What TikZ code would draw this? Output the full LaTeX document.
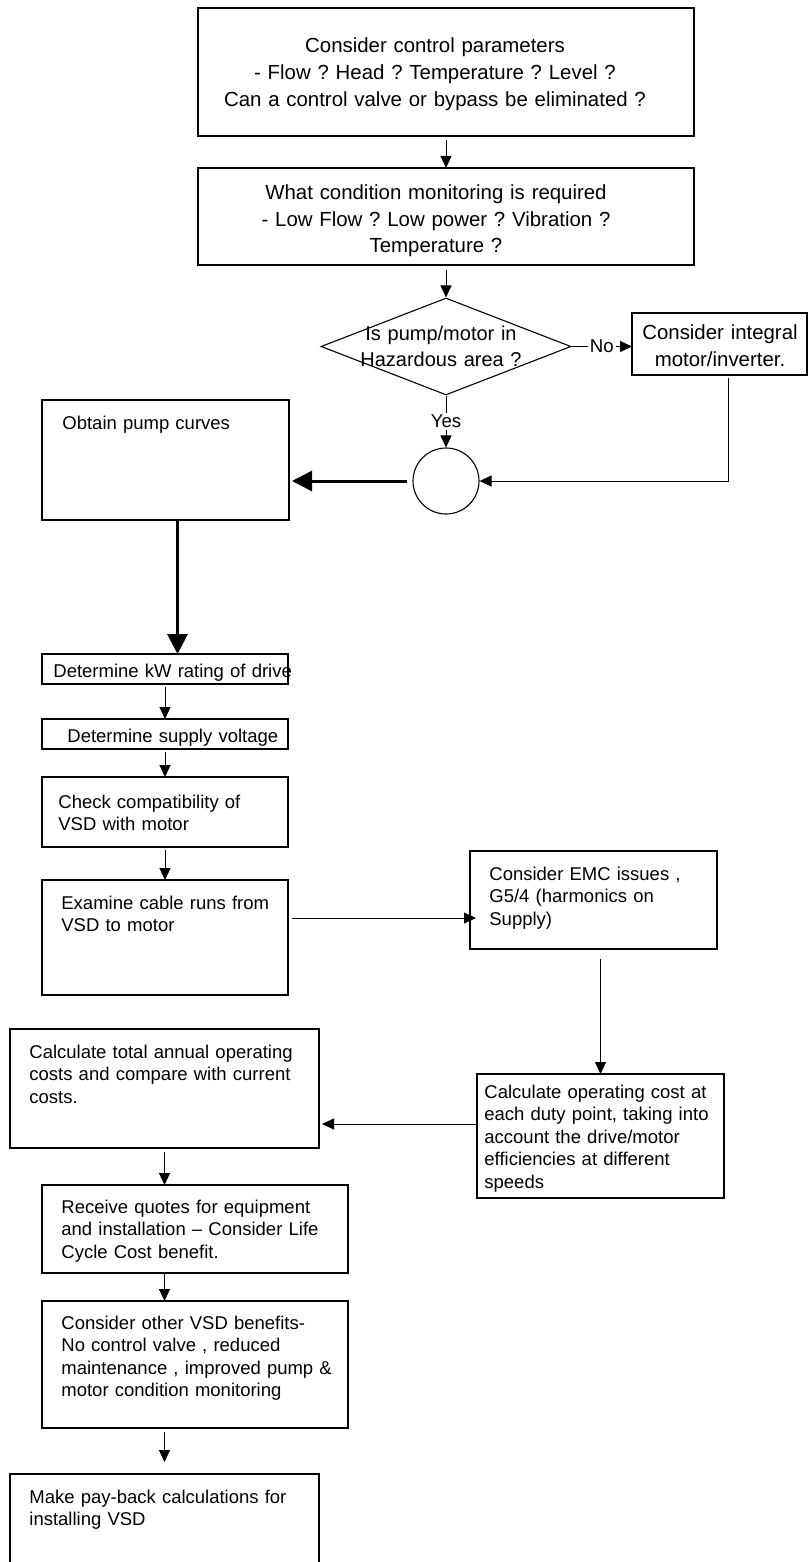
\documentclass[tikz,border=0pt]{standalone}
\usepackage{fontspec}
\setmainfont{Liberation Sans}
\frenchspacing
\usetikzlibrary{arrows.meta,shapes.geometric}
\tikzset{
  flowbox/.style 2 args={draw, line width=0.55pt, anchor=north west, inner sep=0pt, outer sep=0pt, minimum width=#1*0.5pt, minimum height=#2*0.5pt},
  lefttext/.style={anchor=base west, align=left, text width=190pt, inner sep=0pt, font=\fontsize{9.25}{11.25}\selectfont},
  midtext/.style={anchor=base, align=center, text width=#1, inner sep=0pt, font=\fontsize{10.2}{13.5}\selectfont},
  midtext/.default=240pt,
  arr/.style={line width=0.5pt, -{Triangle[length=6pt,width=5.5pt]}},
  bigarr/.style={line width=1.5pt, -{Triangle[length=10pt,width=10pt]}},
  answer/.style={fill=white, inner sep=1pt, font=\fontsize{9.3}{11}\selectfont}
}
\begin{document}
\begin{tikzpicture}[x=0.5pt, y=-0.5pt]
 \useasboundingbox (0,0) rectangle (808,1562);
 \node[flowbox={496}{128}] (params) at (198,8) {};
 \node[midtext] (params-t) at (435,53) {Consider control parameters\\- Flow ? Head ? Temperature ? Level ?\\Can a control valve or bypass be eliminated ?};
 \node[flowbox={496}{97}] (monitor) at (198,168) {};
 \node[midtext] (monitor-t) at (436,199) {What condition monitoring is required\\- Low Flow ? Low power ? Vibration ?\\Temperature ?};
 \node[draw, diamond, line width=0.55pt, inner sep=0pt, minimum width=125pt, minimum height=48.5pt] (hazard) at (446,346.5) {};
 \node[midtext=200pt, font=\fontsize{10}{13}\selectfont] (hazard-t) at (441,340) {Is pump/motor in\\Hazardous area ?};
 \node[flowbox={175}{62}] (integ) at (632,313) {};
 \node[midtext=160pt] (integ-t) at (720,339) {Consider integral\\motor/inverter.};
 \node[draw, circle, line width=0.55pt, inner sep=0pt, minimum size=33pt] (merge) at (446,481) {};
 \node[flowbox={247}{120}] (curves) at (42,400) {};
 \node[lefttext] (curves-t) at (62,429) {Obtain pump curves};
 \node[flowbox={246}{30}] (rating) at (42,654) {};
 \node[lefttext] (rating-t) at (53,677) {Determine kW rating of drive};
 \node[flowbox={246}{30}] (supply) at (42,719) {};
 \node[lefttext] (supply-t) at (67,742) {Determine supply voltage};
 \node[flowbox={246}{70}] (compat) at (42,777) {};
 \node[lefttext] (compat-t) at (58,808) {Check compatibility of\\VSD with motor};
 \node[flowbox={246}{115}] (cable) at (42,880) {};
 \node[lefttext] (cable-t) at (61,909) {Examine cable runs from\\VSD to motor};
 \node[flowbox={247}{98}] (emc) at (470,851) {};
 \node[lefttext] (emc-t) at (489,880) {Consider EMC issues ,\\G5/4 (harmonics on\\Supply)};
 \node[flowbox={247}{124}] (opcost) at (477,1074) {};
 \node[lefttext] (opcost-t) at (484,1098) {Calculate operating cost at\\each duty point, taking into\\account the drive/motor\\efficiencies at different\\speeds};
 \node[flowbox={309}{119}] (annual) at (10,1029) {};
 \node[lefttext] (annual-t) at (29,1058) {Calculate total annual operating\\costs and compare with current\\costs.};
 \node[flowbox={306}{88}] (quotes) at (42,1185) {};
 \node[lefttext] (quotes-t) at (61,1213) {Receive quotes for equipment\\and installation – Consider Life\\Cycle Cost benefit.};
 \node[flowbox={306}{127}] (benefits) at (42,1301) {};
 \node[lefttext] (benefits-t) at (61,1329) {Consider other VSD benefits-\\No control valve , reduced\\maintenance , improved pump \&\\motor condition monitoring};
 \node[flowbox={309}{150}] (payback) at (10,1474) {};
 \node[lefttext] (payback-t) at (29,1503) {Make pay-back calculations for\\installing VSD};
 \draw[arr, shorten <=2pt] (params.south) -- (monitor.north);
 \draw[arr, shorten <=2.5pt] (monitor.south) -- (hazard.north);
 \draw[arr] (hazard.east) -- (hazard.east -| integ.west) node[answer, midway] {No};
 \draw[arr] (hazard.south) -- (merge.north) node[answer, midway] {Yes};
 \coordinate (integ-out) at ([xshift=4.25pt]integ.south);
 \draw[arr, shorten <=1.5pt] (integ-out) |- (merge.east);
 \draw[bigarr, shorten <=2.5pt, shorten >=1.5pt] (merge.west) -- (merge.west -| curves.east);
 \coordinate (curves-out) at ([xshift=6pt]curves.south);
 \draw[bigarr] (curves-out) -- (curves-out |- rating.north);
 \foreach \a/\b in {rating/supply, supply/compat, compat/cable}
   \draw[arr, shorten <=1.5pt] (\a.south) -- (\b.north);
 \coordinate (cable-out) at ([yshift=-19pt]cable.north east);
 \draw[arr, shorten <=2pt, shorten >=-3pt] (cable-out) -- (cable-out -| emc.west);
 \draw[arr, shorten <=5pt] (emc.south -| opcost.north) -- (opcost.north);
 \coordinate (opcost-out) at ([yshift=-25pt]opcost.north west);
 \draw[arr, shorten >=1.5pt] (opcost-out) -- (opcost-out -| annual.east);
 \draw[arr, shorten <=2pt] (annual.south) -- (annual.south |- quotes.north);
 \draw[arr] (annual.south |- quotes.south) -- (annual.south |- benefits.north);
 \draw[arr, shorten <=2pt, shorten >=6pt] (annual.south |- benefits.south) -- (payback.north);
\end{tikzpicture}
\end{document}
